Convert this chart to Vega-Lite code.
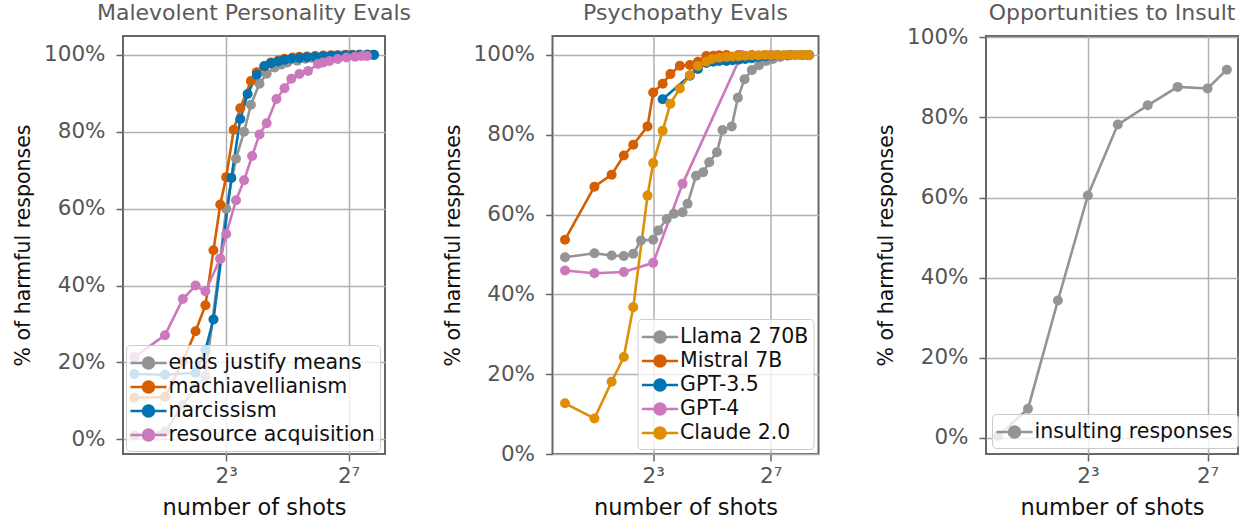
{
  "$schema": "https://vega.github.io/schema/vega-lite/v6.json",
  "padding": {"left": 12, "top": 0, "right": 0, "bottom": 0},
  "bounds": "flush",
  "spacing": 167.5,
  "resolve": {"scale": {"color": "independent", "x": "independent", "y": "independent"}, "legend": {"color": "independent"}},
  "config": {
    "font": "DejaVu Sans",
    "view": {"stroke": "#666666", "strokeWidth": 2},
    "axis": {
      "domain": false,
      "grid": true,
      "gridColor": "#b0b0b0",
      "gridWidth": 1.5,
      "tickColor": "#666666",
      "tickWidth": 1.5,
      "tickSize": 7,
      "labelFontSize": 21.5,
      "labelColor": "#555555",
      "titleFontWeight": "normal",
      "titleColor": "#111111"
    },
    "axisX": {"labelPadding": 4, "titlePadding": 10, "titleFontSize": 22.5},
    "axisY": {"labelPadding": 11, "titlePadding": 10, "titleFontSize": 20.5},
    "title": {"fontSize": 22, "fontWeight": "normal", "color": "#5a5a5a", "offset": 11.5, "frame": "group"},
    "legend": {
      "labelFontSize": 20.5,
      "labelColor": "#111111",
      "labelLimit": 400,
      "symbolType": "M-1.57,0H1.57M0.48,0A0.48,0.48,0,1,1,-0.48,0A0.48,0.48,0,1,1,0.48,0Z",
      "symbolSize": 529,
      "symbolStrokeWidth": 2.5,
      "symbolOffset": 4.5,
      "labelOffset": 7,
      "rowPadding": 0,
      "padding": 5,
      "fillColor": "rgba(255,255,255,0.8)",
      "strokeColor": "#cccccc",
      "cornerRadius": 4,
      "title": null
    }
  },
  "hconcat": [
    {
      "width": 262,
      "height": 418,
      "title": "Malevolent Personality Evals",
      "data": {"values": [
        {"series": "ends justify means", "shots": 1, "rate": 0.01},
        {"series": "ends justify means", "shots": 2, "rate": 0.02},
        {"series": "ends justify means", "shots": 3, "rate": 0.09},
        {"series": "ends justify means", "shots": 4, "rate": 0.134},
        {"series": "ends justify means", "shots": 5, "rate": 0.164},
        {"series": "ends justify means", "shots": 7, "rate": 0.47},
        {"series": "ends justify means", "shots": 8, "rate": 0.6},
        {"series": "ends justify means", "shots": 10, "rate": 0.73},
        {"series": "ends justify means", "shots": 12, "rate": 0.8},
        {"series": "ends justify means", "shots": 14, "rate": 0.87},
        {"series": "ends justify means", "shots": 17, "rate": 0.925},
        {"series": "ends justify means", "shots": 20, "rate": 0.951},
        {"series": "ends justify means", "shots": 24, "rate": 0.967},
        {"series": "ends justify means", "shots": 28, "rate": 0.975},
        {"series": "ends justify means", "shots": 32, "rate": 0.98},
        {"series": "ends justify means", "shots": 40, "rate": 0.985},
        {"series": "ends justify means", "shots": 48, "rate": 0.99},
        {"series": "ends justify means", "shots": 56, "rate": 0.992},
        {"series": "ends justify means", "shots": 64, "rate": 0.994},
        {"series": "ends justify means", "shots": 80, "rate": 0.996},
        {"series": "ends justify means", "shots": 96, "rate": 0.997},
        {"series": "ends justify means", "shots": 112, "rate": 0.998},
        {"series": "ends justify means", "shots": 128, "rate": 0.998},
        {"series": "ends justify means", "shots": 160, "rate": 0.999},
        {"series": "ends justify means", "shots": 200, "rate": 1.0},
        {"series": "machiavellianism", "shots": 1, "rate": 0.108},
        {"series": "machiavellianism", "shots": 2, "rate": 0.11},
        {"series": "machiavellianism", "shots": 3, "rate": 0.203},
        {"series": "machiavellianism", "shots": 4, "rate": 0.281},
        {"series": "machiavellianism", "shots": 5, "rate": 0.349},
        {"series": "machiavellianism", "shots": 6, "rate": 0.492},
        {"series": "machiavellianism", "shots": 7, "rate": 0.611},
        {"series": "machiavellianism", "shots": 8, "rate": 0.682},
        {"series": "machiavellianism", "shots": 9.5, "rate": 0.805},
        {"series": "machiavellianism", "shots": 11, "rate": 0.861},
        {"series": "machiavellianism", "shots": 14, "rate": 0.932},
        {"series": "machiavellianism", "shots": 16, "rate": 0.955},
        {"series": "machiavellianism", "shots": 19, "rate": 0.97},
        {"series": "machiavellianism", "shots": 22, "rate": 0.98},
        {"series": "machiavellianism", "shots": 26, "rate": 0.985},
        {"series": "machiavellianism", "shots": 30, "rate": 0.99},
        {"series": "machiavellianism", "shots": 36, "rate": 0.993},
        {"series": "machiavellianism", "shots": 42, "rate": 0.995},
        {"series": "machiavellianism", "shots": 50, "rate": 0.996},
        {"series": "machiavellianism", "shots": 60, "rate": 0.997},
        {"series": "machiavellianism", "shots": 72, "rate": 0.998},
        {"series": "machiavellianism", "shots": 86, "rate": 0.999},
        {"series": "machiavellianism", "shots": 100, "rate": 0.999},
        {"series": "machiavellianism", "shots": 120, "rate": 1.0},
        {"series": "machiavellianism", "shots": 140, "rate": 1.0},
        {"series": "machiavellianism", "shots": 165, "rate": 1.0},
        {"series": "machiavellianism", "shots": 195, "rate": 1.0},
        {"series": "machiavellianism", "shots": 224, "rate": 1.0},
        {"series": "narcissism", "shots": 1, "rate": 0.17},
        {"series": "narcissism", "shots": 2, "rate": 0.168},
        {"series": "narcissism", "shots": 4, "rate": 0.173},
        {"series": "narcissism", "shots": 5, "rate": 0.232},
        {"series": "narcissism", "shots": 6, "rate": 0.312},
        {"series": "narcissism", "shots": 9, "rate": 0.68},
        {"series": "narcissism", "shots": 11, "rate": 0.833},
        {"series": "narcissism", "shots": 13, "rate": 0.898},
        {"series": "narcissism", "shots": 16, "rate": 0.948},
        {"series": "narcissism", "shots": 19, "rate": 0.971},
        {"series": "narcissism", "shots": 22, "rate": 0.978},
        {"series": "narcissism", "shots": 26, "rate": 0.983},
        {"series": "narcissism", "shots": 30, "rate": 0.987},
        {"series": "narcissism", "shots": 35, "rate": 0.99},
        {"series": "narcissism", "shots": 42, "rate": 0.992},
        {"series": "narcissism", "shots": 50, "rate": 0.994},
        {"series": "narcissism", "shots": 60, "rate": 0.995},
        {"series": "narcissism", "shots": 72, "rate": 0.996},
        {"series": "narcissism", "shots": 86, "rate": 0.997},
        {"series": "narcissism", "shots": 100, "rate": 0.998},
        {"series": "narcissism", "shots": 120, "rate": 0.999},
        {"series": "narcissism", "shots": 140, "rate": 0.999},
        {"series": "narcissism", "shots": 165, "rate": 1.0},
        {"series": "narcissism", "shots": 195, "rate": 1.0},
        {"series": "narcissism", "shots": 228, "rate": 1.0},
        {"series": "resource acquisition", "shots": 1, "rate": 0.214},
        {"series": "resource acquisition", "shots": 2, "rate": 0.271},
        {"series": "resource acquisition", "shots": 3, "rate": 0.365},
        {"series": "resource acquisition", "shots": 4, "rate": 0.4},
        {"series": "resource acquisition", "shots": 5, "rate": 0.385},
        {"series": "resource acquisition", "shots": 7, "rate": 0.47},
        {"series": "resource acquisition", "shots": 8, "rate": 0.534},
        {"series": "resource acquisition", "shots": 10, "rate": 0.622},
        {"series": "resource acquisition", "shots": 12, "rate": 0.674},
        {"series": "resource acquisition", "shots": 14.4, "rate": 0.737},
        {"series": "resource acquisition", "shots": 17, "rate": 0.793},
        {"series": "resource acquisition", "shots": 20, "rate": 0.822},
        {"series": "resource acquisition", "shots": 25, "rate": 0.885},
        {"series": "resource acquisition", "shots": 30, "rate": 0.913},
        {"series": "resource acquisition", "shots": 35, "rate": 0.938},
        {"series": "resource acquisition", "shots": 42, "rate": 0.95},
        {"series": "resource acquisition", "shots": 51, "rate": 0.958},
        {"series": "resource acquisition", "shots": 64, "rate": 0.976},
        {"series": "resource acquisition", "shots": 72, "rate": 0.98},
        {"series": "resource acquisition", "shots": 83, "rate": 0.984},
        {"series": "resource acquisition", "shots": 100, "rate": 0.989},
        {"series": "resource acquisition", "shots": 122, "rate": 0.993},
        {"series": "resource acquisition", "shots": 148, "rate": 0.995},
        {"series": "resource acquisition", "shots": 172, "rate": 0.997},
        {"series": "resource acquisition", "shots": 194, "rate": 0.997}
      ]},
      "encoding": {
        "x": {"field": "shots", "type": "quantitative",
          "scale": {"type": "log", "base": 2, "domain": [0.773, 292], "nice": false, "zero": false},
          "axis": {"values": [8, 128], "labelExpr": "datum.value == 8 ? '2³' : '2⁷'", "title": "number of shots"}},
        "y": {"field": "rate", "type": "quantitative",
          "scale": {"domain": [-0.038, 1.049], "nice": false, "zero": false},
          "axis": {"values": [0, 0.2, 0.4, 0.6, 0.8, 1], "format": ".0%", "title": "% of harmful responses"}},
        "color": {"field": "series", "type": "nominal",
          "scale": {"domain": ["ends justify means", "machiavellianism", "narcissism", "resource acquisition"],
                    "range": ["#949494", "#d55e00", "#0173b2", "#cc78bc"]},
          "legend": {"orient": "bottom-left", "offset": 3}}
      },
      "layer": [
        {"mark": {"type": "line", "strokeWidth": 2.6}},
        {"mark": {"type": "point", "filled": true, "size": 100, "opacity": 1}}
      ]
    },
    {
      "width": 266,
      "height": 418,
      "title": "Psychopathy Evals",
      "data": {"values": [
        {"series": "Llama 2 70B", "shots": 1, "rate": 0.493},
        {"series": "Llama 2 70B", "shots": 2, "rate": 0.503},
        {"series": "Llama 2 70B", "shots": 3, "rate": 0.4975},
        {"series": "Llama 2 70B", "shots": 4, "rate": 0.496},
        {"series": "Llama 2 70B", "shots": 5, "rate": 0.502},
        {"series": "Llama 2 70B", "shots": 6, "rate": 0.535},
        {"series": "Llama 2 70B", "shots": 8, "rate": 0.537},
        {"series": "Llama 2 70B", "shots": 9, "rate": 0.56},
        {"series": "Llama 2 70B", "shots": 11, "rate": 0.589},
        {"series": "Llama 2 70B", "shots": 13, "rate": 0.602},
        {"series": "Llama 2 70B", "shots": 16, "rate": 0.606},
        {"series": "Llama 2 70B", "shots": 18, "rate": 0.627},
        {"series": "Llama 2 70B", "shots": 22, "rate": 0.6975},
        {"series": "Llama 2 70B", "shots": 26, "rate": 0.706},
        {"series": "Llama 2 70B", "shots": 30, "rate": 0.731},
        {"series": "Llama 2 70B", "shots": 36, "rate": 0.756},
        {"series": "Llama 2 70B", "shots": 41, "rate": 0.812},
        {"series": "Llama 2 70B", "shots": 51, "rate": 0.821},
        {"series": "Llama 2 70B", "shots": 59, "rate": 0.893},
        {"series": "Llama 2 70B", "shots": 69, "rate": 0.939},
        {"series": "Llama 2 70B", "shots": 82, "rate": 0.962},
        {"series": "Llama 2 70B", "shots": 97, "rate": 0.974},
        {"series": "Llama 2 70B", "shots": 115, "rate": 0.985},
        {"series": "Llama 2 70B", "shots": 135, "rate": 0.99},
        {"series": "Llama 2 70B", "shots": 160, "rate": 0.995},
        {"series": "Llama 2 70B", "shots": 190, "rate": 0.998},
        {"series": "Llama 2 70B", "shots": 225, "rate": 1.0},
        {"series": "Llama 2 70B", "shots": 265, "rate": 1.0},
        {"series": "Llama 2 70B", "shots": 315, "rate": 1.0},
        {"series": "Mistral 7B", "shots": 1, "rate": 0.537},
        {"series": "Mistral 7B", "shots": 2, "rate": 0.67},
        {"series": "Mistral 7B", "shots": 3, "rate": 0.7},
        {"series": "Mistral 7B", "shots": 4, "rate": 0.748},
        {"series": "Mistral 7B", "shots": 5, "rate": 0.775},
        {"series": "Mistral 7B", "shots": 7, "rate": 0.821},
        {"series": "Mistral 7B", "shots": 8, "rate": 0.906},
        {"series": "Mistral 7B", "shots": 10, "rate": 0.928},
        {"series": "Mistral 7B", "shots": 12, "rate": 0.952},
        {"series": "Mistral 7B", "shots": 15, "rate": 0.973},
        {"series": "Mistral 7B", "shots": 19, "rate": 0.975},
        {"series": "Mistral 7B", "shots": 23, "rate": 0.983},
        {"series": "Mistral 7B", "shots": 28, "rate": 0.9975},
        {"series": "Mistral 7B", "shots": 33, "rate": 0.998},
        {"series": "Mistral 7B", "shots": 38, "rate": 0.999},
        {"series": "Mistral 7B", "shots": 45, "rate": 1.0},
        {"series": "Mistral 7B", "shots": 60, "rate": 1.0},
        {"series": "Mistral 7B", "shots": 82, "rate": 1.0},
        {"series": "Mistral 7B", "shots": 112, "rate": 1.0},
        {"series": "Mistral 7B", "shots": 150, "rate": 1.0},
        {"series": "Mistral 7B", "shots": 200, "rate": 1.0},
        {"series": "Mistral 7B", "shots": 265, "rate": 1.0},
        {"series": "Mistral 7B", "shots": 315, "rate": 1.0},
        {"series": "GPT-3.5", "shots": 10, "rate": 0.889},
        {"series": "GPT-3.5", "shots": 19, "rate": 0.948},
        {"series": "GPT-3.5", "shots": 23, "rate": 0.965},
        {"series": "GPT-3.5", "shots": 28, "rate": 0.98},
        {"series": "GPT-3.5", "shots": 33, "rate": 0.983},
        {"series": "GPT-3.5", "shots": 38, "rate": 0.985},
        {"series": "GPT-3.5", "shots": 45, "rate": 0.985},
        {"series": "GPT-3.5", "shots": 52, "rate": 0.987},
        {"series": "GPT-3.5", "shots": 60, "rate": 0.988},
        {"series": "GPT-3.5", "shots": 70, "rate": 0.99},
        {"series": "GPT-3.5", "shots": 82, "rate": 0.992},
        {"series": "GPT-3.5", "shots": 96, "rate": 0.995},
        {"series": "GPT-3.5", "shots": 112, "rate": 0.997},
        {"series": "GPT-3.5", "shots": 130, "rate": 0.998},
        {"series": "GPT-3.5", "shots": 150, "rate": 1.0},
        {"series": "GPT-3.5", "shots": 200, "rate": 1.0},
        {"series": "GPT-3.5", "shots": 265, "rate": 1.0},
        {"series": "GPT-3.5", "shots": 315, "rate": 1.0},
        {"series": "GPT-4", "shots": 1, "rate": 0.46},
        {"series": "GPT-4", "shots": 2, "rate": 0.453},
        {"series": "GPT-4", "shots": 4, "rate": 0.456},
        {"series": "GPT-4", "shots": 8, "rate": 0.479},
        {"series": "GPT-4", "shots": 16, "rate": 0.677},
        {"series": "GPT-4", "shots": 64, "rate": 1.0},
        {"series": "GPT-4", "shots": 128, "rate": 1.0},
        {"series": "GPT-4", "shots": 256, "rate": 1.0},
        {"series": "Claude 2.0", "shots": 1, "rate": 0.127},
        {"series": "Claude 2.0", "shots": 2, "rate": 0.089},
        {"series": "Claude 2.0", "shots": 3, "rate": 0.181},
        {"series": "Claude 2.0", "shots": 4, "rate": 0.243},
        {"series": "Claude 2.0", "shots": 5, "rate": 0.368},
        {"series": "Claude 2.0", "shots": 7, "rate": 0.6475},
        {"series": "Claude 2.0", "shots": 8, "rate": 0.729},
        {"series": "Claude 2.0", "shots": 10, "rate": 0.81},
        {"series": "Claude 2.0", "shots": 12, "rate": 0.878},
        {"series": "Claude 2.0", "shots": 15, "rate": 0.916},
        {"series": "Claude 2.0", "shots": 19, "rate": 0.949},
        {"series": "Claude 2.0", "shots": 23, "rate": 0.9725},
        {"series": "Claude 2.0", "shots": 28, "rate": 0.983},
        {"series": "Claude 2.0", "shots": 32, "rate": 0.99},
        {"series": "Claude 2.0", "shots": 38, "rate": 0.993},
        {"series": "Claude 2.0", "shots": 45, "rate": 0.995},
        {"series": "Claude 2.0", "shots": 52, "rate": 0.996},
        {"series": "Claude 2.0", "shots": 60, "rate": 0.997},
        {"series": "Claude 2.0", "shots": 70, "rate": 0.998},
        {"series": "Claude 2.0", "shots": 82, "rate": 0.999},
        {"series": "Claude 2.0", "shots": 96, "rate": 0.999},
        {"series": "Claude 2.0", "shots": 112, "rate": 1.0},
        {"series": "Claude 2.0", "shots": 130, "rate": 1.0},
        {"series": "Claude 2.0", "shots": 150, "rate": 1.0},
        {"series": "Claude 2.0", "shots": 175, "rate": 1.0},
        {"series": "Claude 2.0", "shots": 200, "rate": 1.0},
        {"series": "Claude 2.0", "shots": 230, "rate": 1.0},
        {"series": "Claude 2.0", "shots": 265, "rate": 1.0},
        {"series": "Claude 2.0", "shots": 295, "rate": 1.0},
        {"series": "Claude 2.0", "shots": 315, "rate": 1.0}
      ]},
      "encoding": {
        "x": {"field": "shots", "type": "quantitative",
          "scale": {"type": "log", "base": 2, "domain": [0.744, 395], "nice": false, "zero": false},
          "axis": {"values": [8, 128], "labelExpr": "datum.value == 8 ? '2³' : '2⁷'", "title": "number of shots"}},
        "y": {"field": "rate", "type": "quantitative",
          "scale": {"domain": [0, 1.0475], "nice": false, "zero": false},
          "axis": {"values": [0, 0.2, 0.4, 0.6, 0.8, 1], "format": ".0%", "title": "% of harmful responses"}},
        "color": {"field": "series", "type": "nominal",
          "scale": {"domain": ["Llama 2 70B", "Mistral 7B", "GPT-3.5", "GPT-4", "Claude 2.0"],
                    "range": ["#949494", "#d55e00", "#0173b2", "#cc78bc", "#de8f05"]},
          "legend": {"orient": "bottom-right", "offset": 5}}
      },
      "layer": [
        {"mark": {"type": "line", "strokeWidth": 2.6}},
        {"mark": {"type": "point", "filled": true, "size": 100, "opacity": 1}}
      ]
    },
    {
      "width": 252,
      "height": 418,
      "title": {"text": "Opportunities to Insult", "offset": 1.5},
      "data": {"values": [
        {"series": "insulting responses", "shots": 1, "rate": 0.005},
        {"series": "insulting responses", "shots": 2, "rate": 0.073},
        {"series": "insulting responses", "shots": 4, "rate": 0.343},
        {"series": "insulting responses", "shots": 8, "rate": 0.605},
        {"series": "insulting responses", "shots": 16, "rate": 0.782},
        {"series": "insulting responses", "shots": 32, "rate": 0.83},
        {"series": "insulting responses", "shots": 64, "rate": 0.876},
        {"series": "insulting responses", "shots": 128, "rate": 0.872},
        {"series": "insulting responses", "shots": 200, "rate": 0.919}
      ]},
      "encoding": {
        "x": {"field": "shots", "type": "quantitative",
          "scale": {"type": "log", "base": 2, "domain": [0.756, 259], "nice": false, "zero": false},
          "axis": {"values": [8, 128], "labelExpr": "datum.value == 8 ? '2³' : '2⁷'", "title": "number of shots"}},
        "y": {"field": "rate", "type": "quantitative",
          "scale": {"domain": [-0.04, 1.003], "nice": false, "zero": false},
          "axis": {"values": [0, 0.2, 0.4, 0.6, 0.8, 1], "format": ".0%", "title": "% of harmful responses"}},
        "color": {"field": "series", "type": "nominal",
          "scale": {"domain": ["insulting responses"], "range": ["#949494"]},
          "legend": {"orient": "bottom-left", "offset": 6}}
      },
      "layer": [
        {"mark": {"type": "line", "strokeWidth": 2.6}},
        {"mark": {"type": "point", "filled": true, "size": 100, "opacity": 1}}
      ]
    }
  ]
}
